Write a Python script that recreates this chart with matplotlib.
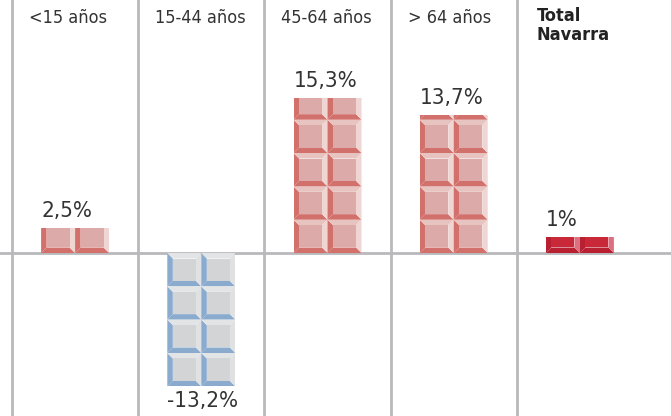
import matplotlib
matplotlib.use('agg')
import matplotlib.pyplot as plt
from matplotlib.patches import Polygon, Rectangle

groups = ['<15 años', '15-44 años', '45-64 años', '> 64 años', 'Total\nNavarra']
values = [2.5, -13.2, 15.3, 13.7, 1.0]
labels = ['2,5%', '-13,2%', '15,3%', '13,7%', '1%']

# tile palettes: face, left/bottom shade, top light, right light
red = ('#dcaaa8', '#d2706c', '#e8c4c0', '#efd6d2')
blue = ('#d2d4d6', '#8aaace', '#e2e4e6', '#dfe1e3')
total = ('#c82838', '#b81f30', '#c82838', '#dc7080')

plt.rcParams['font.family'] = ['DejaVu Sans']
plt.rcParams['font.stretch'] = 'condensed'

W, H = 671, 416
fig = plt.figure(figsize=(W / 100, H / 100), dpi=100)
ax = fig.add_axes([0, 0, 1, 1])
ax.set_axis_off()

px = 10.1  # pixels per percent
ax.set_xlim(0, W)
ax.set_ylim(-(H - 253) / px, 253 / px)

col0, colw = 12, 126.2
tile_w, tile_h = 34, 3.3
bx = 5.5        # bevel in px
by = 5.5 / px   # bevel in %
min_h = 1.6     # small bars are drawn at least this tall

for i in range(5):
    ax.axvline(col0 + i * colw, color='#b9b9bc', lw=2, zorder=1)
ax.axhline(0, color='#b9b9bc', lw=2, zorder=1)


def tile(x0, y0, pal, clip):
    face, dark, top, right = pal
    x1, y1 = x0 + tile_w, y0 + tile_h
    pts = [
        ([(x0, y0), (x0 + bx, y0 + by), (x0 + bx, y1 - by), (x0, y1)], dark),
        ([(x0, y0), (x1, y0), (x1 - bx, y0 + by), (x0 + bx, y0 + by)], dark),
        ([(x0, y1), (x1, y1), (x1 - bx, y1 - by), (x0 + bx, y1 - by)], top),
        ([(x1, y0), (x1, y1), (x1 - bx, y1 - by), (x1 - bx, y0 + by)], right),
    ]
    for p, c in pts:
        poly = Polygon(p, closed=True, fc=c, ec='none', zorder=2)
        ax.add_patch(poly)
        poly.set_clip_path(clip)
    r = Rectangle((x0 + bx, y0 + by), tile_w - 2 * bx, tile_h - 2 * by,
                  fc=face, ec='none', zorder=2)
    ax.add_patch(r)
    r.set_clip_path(clip)


for i, (g, v, lab) in enumerate(zip(groups, values, labels)):
    left = col0 + i * colw
    cx = left + colw / 2
    xb = cx - tile_w
    pal = total if i == 4 else (red if v > 0 else blue)
    h = max(abs(v), min_h)
    top = h if v > 0 else -h
    clip = Rectangle((xb, min(0, top)), 2 * tile_w, h, transform=ax.transData)
    n = int(h / tile_h) + 1
    for k in range(n):
        y0 = k * tile_h if v > 0 else -(k + 1) * tile_h
        for j in range(2):
            tile(xb + j * tile_w, y0, pal, clip)
    if v > 0:
        ax.text(xb, top + 1.1, lab, fontsize=16, color='#333333', ha='left', va='baseline')
    else:
        ax.text(xb, top - 0.5, lab, fontsize=16, color='#333333', ha='left', va='top')
    if i == 4:
        ax.text(left + 20, 253 / px - 0.7, g, fontsize=13, fontweight='bold',
                color='#222222', ha='left', va='top', linespacing=1.05)
    else:
        ax.text(left + 17, 253 / px - 0.9, g, fontsize=13, color='#333333',
                ha='left', va='top')

fig.savefig('out.png', dpi=100)
